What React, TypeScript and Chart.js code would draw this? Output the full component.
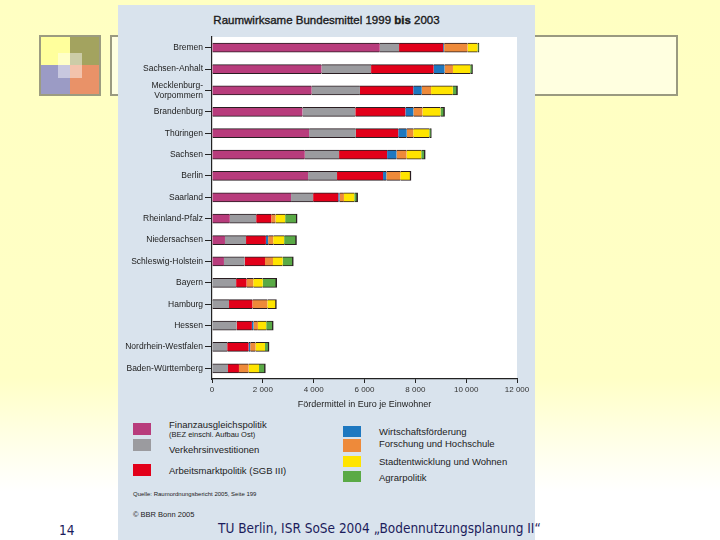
import React, { useEffect, useRef } from "react";
import { Chart, registerables } from "chart.js";

Chart.register(...registerables);

const categories: (string | string[])[] = [
  "Bremen",
  "Sachsen-Anhalt",
  ["Mecklenburg-", "Vorpommern"],
  "Brandenburg",
  "Thüringen",
  "Sachsen",
  "Berlin",
  "Saarland",
  "Rheinland-Pfalz",
  "Niedersachsen",
  "Schleswig-Holstein",
  "Bayern",
  "Hamburg",
  "Hessen",
  "Nordrhein-Westfalen",
  "Baden-Württemberg",
];

const finanzausgleich = [6600, 4310, 3920, 3560, 3820, 3650, 3780, 3110, 700, 510, 470, 0, 0, 0, 0, 0];
const verkehr = [760, 1950, 1900, 2080, 1840, 1350, 1140, 870, 1040, 830, 815, 950, 670, 970, 600, 630];
const arbeitsmarkt = [1735, 2460, 2100, 1970, 1670, 1890, 1810, 990, 590, 780, 800, 410, 920, 600, 840, 430];
const wirtschaft = [40, 430, 330, 315, 330, 370, 130, 50, 0, 90, 0, 0, 0, 65, 65, 0];
const forschung = [920, 330, 370, 355, 260, 395, 550, 170, 170, 200, 315, 265, 590, 170, 210, 380];
const stadt = [390, 680, 855, 710, 630, 580, 420, 410, 380, 430, 380, 370, 355, 330, 370, 410];
const agrar = [60, 90, 185, 160, 80, 155, 0, 130, 470, 485, 420, 550, 0, 275, 160, 250];

const xTicks = [0, 2000, 4000, 6000, 8000, 10000, 12000];

const seriesNames = [
  "Finanzausgleichspolitik",
  "Verkehrsinvestitionen",
  "Arbeitsmarktpolitik (SGB III)",
  "Wirtschaftsförderung",
  "Forschung und Hochschule",
  "Stadtentwicklung und Wohnen",
  "Agrarpolitik",
];
const seriesColors = ["#b83c7c", "#9b9b9f", "#e2001a", "#1e78c0", "#ee8a3a", "#ffe400", "#5aaa46"];
const seriesData = [finanzausgleich, verkehr, arbeitsmarkt, wirtschaft, forschung, stadt, agrar];

const FONT = "'Liberation Sans', Arial, sans-serif";

const whiteArea = {
  id: "whiteArea",
  beforeDraw(chart: any) {
    const { ctx, chartArea } = chart;
    ctx.save();
    ctx.fillStyle = "#ffffff";
    ctx.fillRect(chartArea.left, chartArea.top, chartArea.right - chartArea.left, chartArea.bottom - chartArea.top);
    ctx.restore();
  },
};

function BarChart() {
  const ref = useRef<HTMLCanvasElement>(null);
  useEffect(() => {
    if (!ref.current) return;
    const lastIndex = (i: number) => {
      let last = -1;
      seriesData.forEach((s, d) => {
        if (s[i] > 0) last = d;
      });
      return last;
    };
    const chart = new Chart(ref.current, {
      type: "bar",
      data: {
        labels: categories as any,
        datasets: seriesData.map((d, k) => ({
          label: seriesNames[k],
          data: d,
          backgroundColor: seriesColors[k],
          borderColor: "#2a1e22",
          borderSkipped: false,
          borderWidth: (c: any) => ({
            top: 1,
            bottom: 1,
            left: 0,
            right: lastIndex(c.dataIndex) === c.datasetIndex ? 1.5 : 0,
          }),
          barThickness: 9,
        })),
      },
      options: {
        indexAxis: "y",
        animation: false,
        responsive: true,
        maintainAspectRatio: false,
        layout: { padding: { top: 32, right: 18, left: 0, bottom: 0 } },
        plugins: {
          legend: { display: false },
          tooltip: { enabled: false },
          title: { display: false },
        },
        scales: {
          x: {
            stacked: true,
            min: 0,
            max: 12000,
            afterFit: (s: any) => {
              s.height = 36;
            },
            afterBuildTicks: (s: any) => {
              s.ticks = xTicks.map((v) => ({ value: v }));
            },
            ticks: {
              font: { family: FONT, size: 8 },
              color: "#333",
              padding: 2,
              maxRotation: 0,
              callback: (v: any) => String(v).replace(/\B(?=(\d{3})+(?!\d))/g, " "),
            },
            grid: { drawOnChartArea: false, drawTicks: true, tickLength: 4, color: "#222" },
            border: { display: true, color: "#222", width: 1.2 },
            title: {
              display: true,
              text: "Fördermittel in Euro je Einwohner",
              font: { family: FONT, size: 9 },
              color: "#222",
              padding: { top: 0, bottom: 5 },
            },
          },
          y: {
            stacked: true,
            afterFit: (s: any) => {
              s.width = 93;
            },
            ticks: {
              font: { family: FONT, size: 8.5 },
              color: "#222",
              padding: 2,
              autoSkip: false,
            },
            grid: { offset: false, drawOnChartArea: false, drawTicks: true, tickLength: 7, color: "#222" },
            border: { display: true, color: "#222", width: 1.2 },
          },
        },
      },
      plugins: [whiteArea],
    } as any);
    return () => chart.destroy();
  }, []);
  return <canvas ref={ref} />;
}

const abs = (l: number, t: number, extra: any = {}) => ({ position: "absolute" as const, left: l, top: t, ...extra });

export default function App() {
  const legendText = { fontFamily: FONT, fontSize: 9.5, color: "#222", whiteSpace: "nowrap" as const, lineHeight: "11px" };
  return (
    <div
      style={{
        position: "fixed",
        left: 0,
        top: 0,
        width: 720,
        height: 540,
        overflow: "hidden",
        background: "linear-gradient(#ffffc2 0%, #ffffc6 70%, #fffff0 85%, #ffffff 91%)",
        fontFamily: FONT,
      }}
    >
      {/* decorative squares */}
      <div style={abs(39, 35, { width: 58, height: 57, border: "2px solid #9c9c80", background: "#ffff9c" })} />
      <div style={abs(70, 37, { width: 29, height: 28, background: "#a3a35f" })} />
      <div style={abs(41, 65, { width: 29, height: 29, background: "#9b9bc5" })} />
      <div style={abs(70, 65, { width: 29, height: 29, background: "#e99268" })} />
      <div style={abs(58, 53, { width: 24, height: 25, background: "rgba(255,255,255,0.45)" })} />
      {/* outline box */}
      <div style={abs(110, 35, { width: 564, height: 57, border: "2px solid #9a9a80", background: "#ffffe0" })} />
      {/* panel */}
      <div style={abs(118, 5, { width: 417, height: 540, background: "#d9e3ed" })} />
      {/* title */}
      <div
        style={abs(119, 14, {
          width: 415,
          textAlign: "center",
          fontFamily: FONT,
          fontSize: 11.5,
          color: "#1a1a1a",
          WebkitTextStroke: "0.35px #1a1a1a",
          whiteSpace: "nowrap",
        })}
      >
        Raumwirksame Bundesmittel 1999 <b>bis</b> 2003
      </div>
      {/* chart */}
      <div style={abs(119, 5, { width: 416, height: 410 })}>
        <BarChart />
      </div>
      {/* legend */}
      <div style={abs(133, 423, { width: 18, height: 12, background: seriesColors[0] })} />
      <div style={abs(133, 439, { width: 18, height: 12, background: seriesColors[1] })} />
      <div style={abs(133, 464, { width: 18, height: 12, background: seriesColors[2] })} />
      <div style={abs(343, 426, { width: 18, height: 11, background: seriesColors[3] })} />
      <div style={abs(343, 439, { width: 18, height: 13, background: seriesColors[4] })} />
      <div style={abs(343, 456, { width: 18, height: 11, background: seriesColors[5] })} />
      <div style={abs(343, 471, { width: 18, height: 11, background: seriesColors[6] })} />
      <div style={abs(169, 419, legendText)}>{seriesNames[0]}</div>
      <div style={abs(169, 430, { ...legendText, fontSize: 7.5, lineHeight: "9px" })}>(BEZ einschl. Aufbau Ost)</div>
      <div style={abs(169, 444, legendText)}>{seriesNames[1]}</div>
      <div style={abs(169, 465, legendText)}>{seriesNames[2]}</div>
      <div style={abs(379, 426, legendText)}>{seriesNames[3]}</div>
      <div style={abs(379, 438, legendText)}>{seriesNames[4]}</div>
      <div style={abs(379, 456, legendText)}>{seriesNames[5]}</div>
      <div style={abs(379, 472, legendText)}>{seriesNames[6]}</div>
      <div style={abs(133, 490, { ...legendText, fontSize: 6, lineHeight: "8px" })}>
        Quelle: Raumordnungsbericht 2005, Seite 199
      </div>
      <div style={abs(133, 511, { ...legendText, fontSize: 7.5, lineHeight: "8px" })}>© BBR Bonn 2005</div>
      {/* footer */}
      <div
        style={abs(218, 520, {
          fontFamily: "'DejaVu Sans Condensed', 'DejaVu Sans', sans-serif",
          fontSize: 13.5,
          color: "#1c1c5c",
          whiteSpace: "nowrap",
          lineHeight: "16px",
        })}
      >
        TU Berlin, ISR SoSe 2004 „Bodennutzungsplanung II“
      </div>
      <div
        style={abs(59, 522, {
          fontFamily: "'DejaVu Sans Condensed', 'DejaVu Sans', sans-serif",
          fontSize: 13.5,
          color: "#1c1c5c",
          lineHeight: "16px",
        })}
      >
        14
      </div>
    </div>
  );
}
